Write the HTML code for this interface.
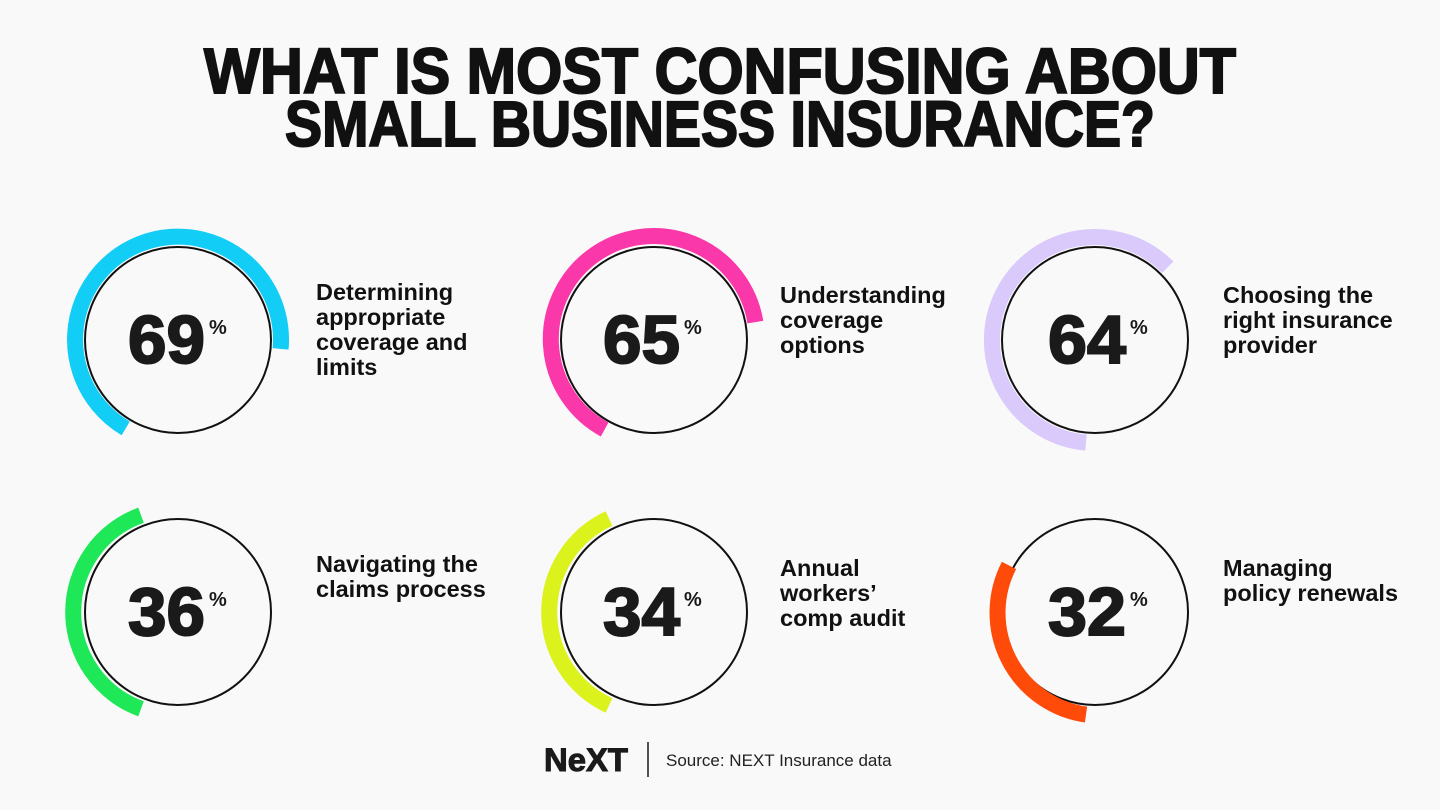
<!DOCTYPE html>
<html><head><meta charset="utf-8"><style>
body{margin:0;background:#f9f9f9;}
svg{display:block}
</style></head><body>
<svg width="1440" height="810" viewBox="0 0 1440 810" xmlns="http://www.w3.org/2000/svg" font-family="Liberation Sans, sans-serif">
<rect width="1440" height="810" fill="#f9f9f9"/>
<g font-weight="900" fill="#111" font-size="64">
<text x="720" y="93" text-anchor="middle" textLength="1032" lengthAdjust="spacingAndGlyphs" stroke="#111" stroke-width="2">WHAT IS MOST CONFUSING ABOUT</text>
<text x="720" y="146" text-anchor="middle" textLength="870" lengthAdjust="spacingAndGlyphs" stroke="#111" stroke-width="2">SMALL BUSINESS INSURANCE?</text>
</g>
<g fill="none" stroke="#111" stroke-width="2">
<circle cx="178" cy="340" r="93"/><circle cx="654" cy="340" r="93"/><circle cx="1095" cy="340" r="93"/>
<circle cx="178" cy="612" r="93"/><circle cx="654" cy="612" r="93"/><circle cx="1095" cy="612" r="93"/>
</g>
<g fill="none" stroke-width="16">
<path stroke="#12cdf5" d="M 125.7 428.4 A 103 103 0 1 1 280.6 348.9"/>
<path stroke="#fb38a9" d="M 604.6 429.5 A 103 103 0 1 1 755.4 322.1"/>
<path stroke="#dacafb" d="M 1086 442.6 A 103 103 0 1 1 1167.8 267.2"/>
<path stroke="#1ee858" d="M 141 708.8 A 103 103 0 0 1 141 515.2"/>
<path stroke="#dcf21d" d="M 609 705.5 A 103 103 0 0 1 609 518.5"/>
<path stroke="#ff4b0a" d="M 1086 714.6 A 103 103 0 0 1 1009 565.4"/>
</g>
<g font-weight="900" fill="#1a1a1a" font-size="68" stroke="#1a1a1a" stroke-width="2">
<text x="128" y="363" textLength="77" lengthAdjust="spacingAndGlyphs">69</text>
<text x="603" y="363" textLength="77" lengthAdjust="spacingAndGlyphs">65</text>
<text x="1048" y="363" textLength="78" lengthAdjust="spacingAndGlyphs">64</text>
<text x="128" y="635" textLength="77" lengthAdjust="spacingAndGlyphs">36</text>
<text x="603" y="635" textLength="77" lengthAdjust="spacingAndGlyphs">34</text>
<text x="1048" y="635" textLength="78" lengthAdjust="spacingAndGlyphs">32</text>
</g>
<g font-weight="700" fill="#1a1a1a" font-size="20">
<text x="209" y="334">%</text><text x="684" y="334">%</text><text x="1130" y="334">%</text>
<text x="209" y="606">%</text><text x="684" y="606">%</text><text x="1130" y="606">%</text>
</g>
<g font-weight="700" fill="#111" font-size="23.5">
<text x="316" y="300">Determining</text><text x="316" y="325">appropriate</text><text x="316" y="350">coverage and</text><text x="316" y="375">limits</text>
<text x="780" y="303">Understanding</text><text x="780" y="328">coverage</text><text x="780" y="353">options</text>
<text x="1223" y="303">Choosing the</text><text x="1223" y="328">right insurance</text><text x="1223" y="353">provider</text>
<text x="316" y="572">Navigating the</text><text x="316" y="597">claims process</text>
<text x="780" y="576">Annual</text><text x="780" y="601">workers’</text><text x="780" y="626">comp audit</text>
<text x="1223" y="576">Managing</text><text x="1223" y="601">policy renewals</text>
</g>
<text x="544" y="771" font-weight="900" font-size="32" fill="#1a1a1a" stroke="#1a1a1a" stroke-width="1" textLength="84" lengthAdjust="spacingAndGlyphs">NeXT</text>
<line x1="648" y1="742" x2="648" y2="777" stroke="#1a1a1a" stroke-width="1.5"/>
<text x="666" y="766" font-size="17" fill="#222">Source: NEXT Insurance data</text>
</svg>
</body></html>
